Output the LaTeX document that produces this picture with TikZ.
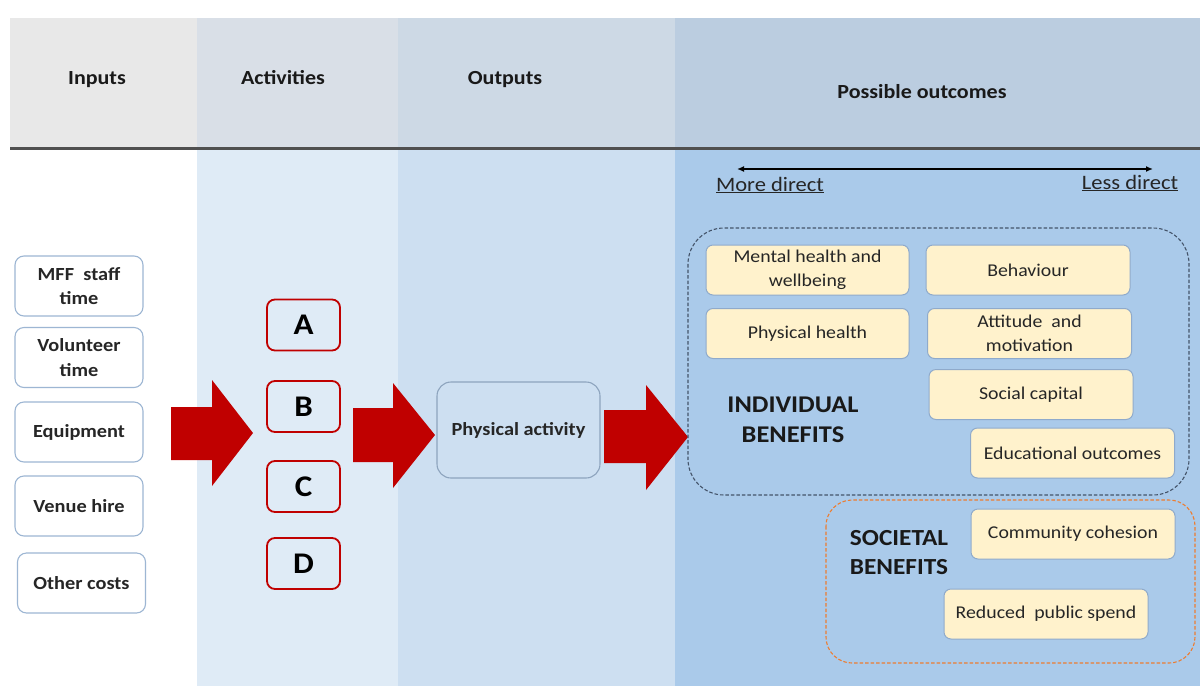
\documentclass[tikz,border=0pt]{standalone}
\usepackage{fontspec}
\setmainfont{Carlito}[FakeStretch=1.1]
\usetikzlibrary{arrows.meta}
\definecolor{hdrA}{HTML}{E8E8E8}
\definecolor{hdrB}{HTML}{D9DFE7}
\definecolor{hdrC}{HTML}{CDD9E5}
\definecolor{hdrD}{HTML}{BBCDE0}
\definecolor{bodyB}{HTML}{DFEBF6}
\definecolor{bodyC}{HTML}{CDDFF1}
\definecolor{bodyD}{HTML}{AACAEA}
\definecolor{inborder}{HTML}{9DB6D3}
\definecolor{actred}{HTML}{C00000}
\definecolor{outfill}{HTML}{FFF2CC}
\definecolor{outborder}{HTML}{8FAACB}
\definecolor{slate}{HTML}{44546A}
\definecolor{orng}{HTML}{ED7D31}
\definecolor{sepgray}{HTML}{505050}
\tikzset{
  hdrtext/.style={font=\fontsize{20}{24}\selectfont\bfseries, text=black!90,
    text height=14pt, text depth=4pt},
  inbox/.style={draw=inborder, fill=white, line width=1.1pt, rounded corners=9pt,
    minimum width=128pt, minimum height=60pt, align=center, inner sep=2pt,
    font=\fontsize{18.5}{24.5}\selectfont\bfseries, text=black!85},
  actbox/.style={draw=actred, line width=1.8pt, rounded corners=8pt,
    minimum width=73pt, minimum height=51pt, inner sep=0pt,
    font=\fontsize{30}{32}\selectfont\bfseries},
  pabox/.style={draw=inborder!90!black, line width=1.1pt, rounded corners=14pt,
    minimum width=163pt, minimum height=96pt, align=center,
    font=\fontsize{18.5}{22}\selectfont\bfseries, text=black!85},
  outbox/.style={draw=outborder, fill=outfill, line width=1pt, rounded corners=7pt,
    minimum width=204pt, minimum height=50pt, align=center, inner sep=2pt,
    font=\fontsize{18}{24.5}\selectfont, text=black!85},
  bigarrow/.style={fill=actred},
  grouplabel/.style={font=\fontsize{24}{30}\selectfont\bfseries, align=center, text=black!90},
  dirlabel/.style={font=\fontsize{20.5}{24}\selectfont, text=black!85},
}
\begin{document}
\begin{tikzpicture}[x=1pt,y=-1pt]
\useasboundingbox (0,0) rectangle (1200,686);
\fill[white] (0,0) rectangle (1200,686);
% header band
\fill[hdrA] (10,18) rectangle (197,148);
\fill[hdrB] (197,18) rectangle (398,148);
\fill[hdrC] (398,18) rectangle (675,148);
\fill[hdrD] (675,18) rectangle (1200,148);
% body columns
\fill[bodyB] (197,150) rectangle (398,686);
\fill[bodyC] (398,150) rectangle (675,686);
\fill[bodyD] (675,150) rectangle (1200,686);
% separator
\draw[sepgray, line width=3pt] (10,148) -- (1200,148);
% header texts
\node[hdrtext] (hInputs) at (97,79) {Inputs};
\node[hdrtext] (hAct) at (283,79) {Activities};
\node[hdrtext] (hOut) at (505,79) {Outputs};
\node[hdrtext] (hPoss) at (922,93) {Possible outcomes};
% direction arrow
\coordinate (dirL) at (737,169);
\coordinate (dirR) at (1153,169);
\draw[line width=1.4pt, {Latex[length=7pt,width=6pt]}-{Latex[length=7pt,width=6pt]}] (dirL) -- (dirR);
\node[dirlabel] (more) at (770,185) {\underline{More direct}};
\node[dirlabel] (less) at (1130,183) {\underline{Less direct}};
% inputs
\node[inbox] (in1) at (79,286) {MFF\ \ staff\\time};
\node[inbox] (in2) at (79,357.5) {Volunteer\\time};
\node[inbox] (in3) at (79,432) {Equipment};
\node[inbox] (in4) at (79,506) {Venue\ hire};
\node[inbox] (in5) at (81.5,583) {Other costs};
% activities
\node[actbox] (actA) at (303.5,325) {A};
\node[actbox] (actB) at (303.5,406.5) {B};
\node[actbox] (actC) at (303.5,486.5) {C};
\node[actbox] (actD) at (303.5,563.5) {D};
% output
\node[pabox] (pa) at (518.5,430) {Physical activity};
% big arrows
\fill[bigarrow] (171,407) -- (212,407) -- (212,380) -- (253,433) -- (212,486) -- (212,460) -- (171,460) -- cycle;
\fill[bigarrow] (353,408) -- (393,408) -- (393,383) -- (435,435) -- (393,488) -- (393,462) -- (353,462) -- cycle;
\fill[bigarrow] (604,410) -- (646,410) -- (646,385) -- (688,437) -- (646,490) -- (646,463) -- (604,463) -- cycle;
% group boxes
\draw[slate, line width=1.1pt, dash pattern=on 3.5pt off 2pt, rounded corners=36pt] (688,228) rectangle (1189,495);
\draw[orng, line width=1.1pt, dash pattern=on 3.5pt off 2pt, rounded corners=26pt] (826,500) rectangle (1195,663);
% outcome boxes
\node[outbox, minimum width=203pt] (mental) at (807.5,270) {Mental health and\\wellbeing};
\node[outbox] (behav) at (1028,270) {Behaviour};
\node[outbox, minimum width=203pt] (phys) at (807.5,333.5) {Physical health};
\node[outbox] (att) at (1029.5,333.5) {Attitude\ \ and\\motivation};
\node[outbox] (soc) at (1031,394.5) {Social capital};
\node[outbox] (edu) at (1072.5,453) {Educational outcomes};
\node[outbox] (comm) at (1073,534) {Community cohesion};
\node[outbox] (red) at (1046,614) {Reduced\ \ public spend};
% group labels
\node[grouplabel] (indiv) at (793,420) {INDIVIDUAL\\BENEFITS};
\node[grouplabel, font=\fontsize{23}{29}\selectfont\bfseries] (societal) at (899,553) {SOCIETAL\\BENEFITS};
\end{tikzpicture}
\end{document}
